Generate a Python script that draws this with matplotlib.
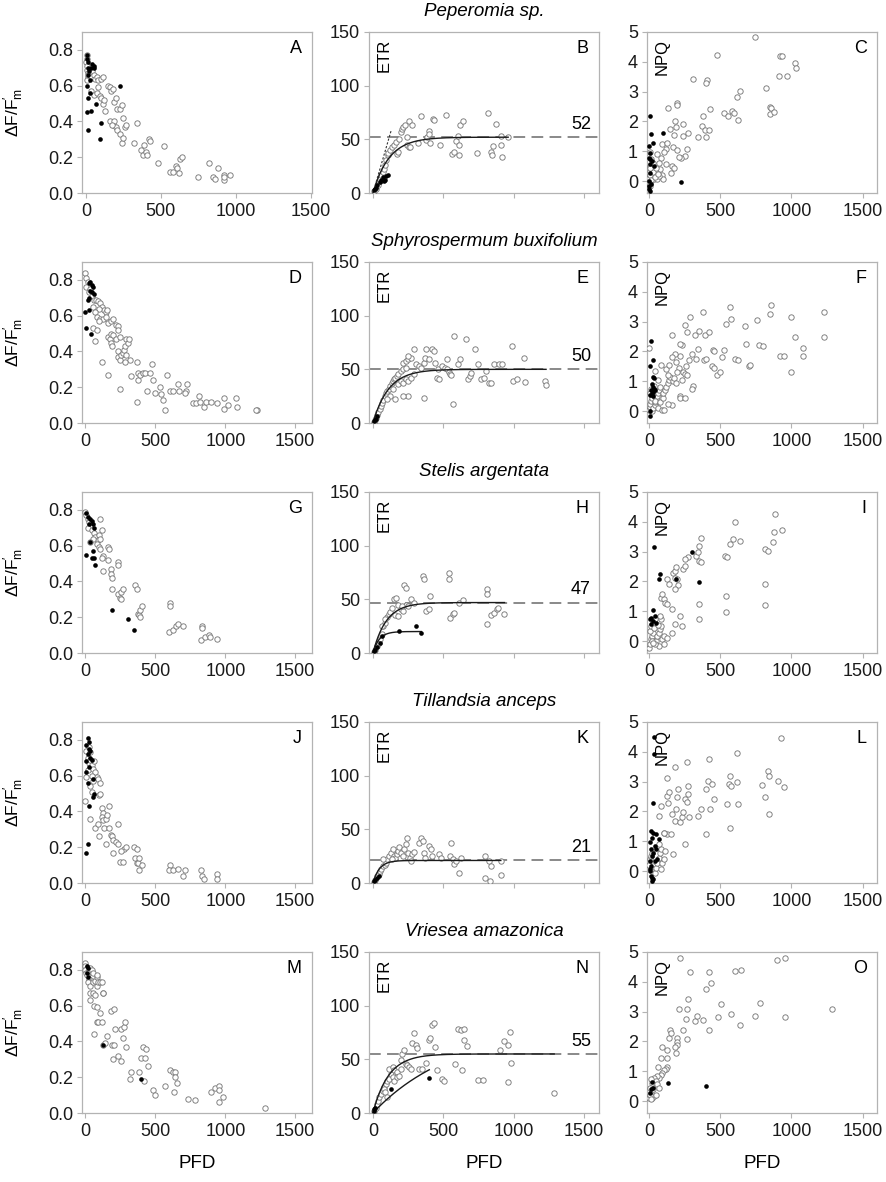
import numpy as np
import matplotlib
matplotlib.use("Agg")
import matplotlib.pyplot as plt

plt.rcParams['font.family'] = ['Liberation Sans', 'DejaVu Sans']
plt.rcParams['mathtext.fontset'] = 'custom'
plt.rcParams['mathtext.rm'] = 'Liberation Sans'
plt.rcParams['mathtext.it'] = 'Liberation Sans:italic'

species = ["Peperomia sp.", "Sphyrospermum buxifolium", "Stelis argentata",
           "Tillandsia anceps", "Vriesea amazonica"]
letters = [["A", "B", "C"], ["D", "E", "F"], ["G", "H", "I"], ["J", "K", "L"], ["M", "N", "O"]]
xticks = [0, 500, 1000, 1500]

# ---- Peperomia sp. ----
A_open = [(5,.77),(5,.75),(3,.73),(8,.71),(5,.69),(10,.67),(12,.65),(5,.63),(15,.66),(25,.67),(30,.65),
          (40,.68),(50,.66),(60,.64),(70,.65),(80,.63),(100,.64),(110,.65),(35,.57),(55,.55),(70,.56),
          (80,.59),(90,.54),(100,.53),(110,.50),(120,.52),(130,.46),(150,.60),(160,.59),(170,.57),
          (180,.58),(190,.51),(200,.53),(210,.47),(230,.47),(240,.49),(250,.42),(160,.40),(180,.38),
          (190,.40),(200,.37),(175,.38),(210,.35),(230,.33),(240,.28),(250,.31),(260,.37),(270,.38),
          (320,.28),(340,.39),(370,.24),(380,.21),(390,.27),(400,.23),(410,.21),(420,.30),(430,.29),
          (480,.17),(520,.26),(560,.12),(580,.12),(600,.15),(610,.14),(620,.11),(625,.19),(640,.20),
          (745,.09),(820,.17),(850,.09),(860,.08),(880,.14),(920,.10),(925,.07),(965,.10),(920,.09)]
A_fill = [(5,.77),(8,.75),(15,.73),(40,.72),(50,.70),(55,.71),(20,.68),(10,.66),(25,.63),(5,.60),
          (26,.56),(15,.53),(4,.455),(31,.46),(68,.50),(13,.35),(97,.39),(90,.30),(224,.60),(10,.70),(30,.70)]
B_open = [(7,1.6),(23,4.0),(35,7.1),(47,10.9),(53,13.4),(58,16.5),(70,19.6),(81,22.7),(86,25.8),
          (93,30.4),(105,35.1),(109,37.6),(123,39.8),(133,42.9),(151,44.4),(163,47.5),(174,36.0),
          (179,38.2),(186,50.6),(198,56.8),(209,59.3),(216,61.5),(226,63.1),(240,44.4),(244,52.2),
          (256,42.9),(263,42.9),(256,66.8),(279,63.1),(319,46.9),(344,71.7),(379,49.1),(384,52.2),
          (395,57.5),(395,55.3),(402,46.6),(426,68.6),(435,67.7),(477,44.4),(519,73.0),(558,36.6),
          (575,38.2),(593,48.1),(605,53.1),(612,44.4),(612,35.1),(621,63.1),(640,66.8),(740,37.6),
          (819,74.5),(837,38.2),(844,35.7),(849,43.8),(877,64.6),(909,52.8),(909,44.4),(919,33.5),(961,52.2)]
B_fill = [(7,2.5),(16,4),(23,4.7),(30,7),(47,10),(58,11.8),(70,15),(81,10.9),(88,11.8),(93,15.8),(105,17)]
C_open = [(741,4.83),(477,4.24),(1024,3.96),(1029,3.79),(918,4.21),(930,4.21),(913,3.54),(965,3.51),
          (311,3.43),(406,3.39),(399,3.28),(642,3.03),(819,3.11),(616,2.81),(194,2.61),(198,2.55),
          (132,2.45),(430,2.42),(382,2.17),(524,2.28),(580,2.36),(594,2.28),(557,2.17),(623,2.04),
          (852,2.47),(859,2.45),(847,2.25),(878,2.31),(182,2.00),(186,1.82),(144,1.76),(238,1.93),
          (371,1.84),(392,1.71),(418,1.71),(399,1.48),(345,1.49),(276,1.61),(238,1.52),(175,1.53),
          (165,1.15),(198,1.03),(264,1.09),(252,0.84),(222,0.76),(210,0.80),(92,1.24),(123,1.29),
          (116,1.09),(104,0.96),(57,0.90),(85,0.79),(71,0.62),(116,0.56),(158,0.51),(175,0.45),
          (151,0.28),(80,0.39),(92,0.22),(45,0.34),(33,0.06),(21,0.22),(9,0.51),(14,0.73),(5,0.96),
          (57,0.06),(99,0.06),(68,0.17),(9,-0.17),(0,0.1),(5,0.2),(10,0.35),(15,0.05),(20,0.4),
          (25,0.6),(30,0.3),(40,0.15),(50,0.45),(60,0.25),(0,-0.05),(10,-0.1),(5,0.45)]
C_fill = [(5,2.17),(16,1.57),(97,1.61),(28,1.27),(2,1.18),(9,0.93),(0,0.79),(9,0.73),(21,0.67),
          (5,0.56),(33,0.51),(5,0.28),(0,0.0),(0,-0.17),(2,-0.28),(5,-0.34),(222,-0.03),(14,-0.11)]

# ---- Sphyrospermum buxifolium ----
D_open = [(0,.84),(4,.81),(15,.79),(7,.76),(33,.75),(22,.73),(44,.71),(59,.69),(74,.69),(89,.68),
          (107,.67),(118,.65),(133,.63),(144,.62),(155,.63),(96,.64),(52,.65),(70,.62),(81,.59),
          (107,.58),(126,.58),(96,.57),(144,.59),(163,.56),(181,.57),(200,.58),(218,.55),(229,.54),
          (236,.52),(52,.53),(81,.52),(70,.46),(118,.34),(163,.48),(174,.47),(181,.45),(192,.43),
          (181,.50),(200,.49),(218,.47),(244,.48),(229,.40),(236,.37),(244,.35),(255,.38),(266,.39),
          (273,.41),(281,.43),(292,.47),(303,.45),(310,.47),(318,.35),(281,.34),(292,.38),(163,.27),
          (244,.19),(329,.26),(366,.34),(377,.28),(377,.24),(392,.27),(414,.28),(429,.28),(458,.28),
          (477,.33),(480,.24),(366,.12),(440,.18),(495,.17),(532,.20),(539,.16),(551,.13),(569,.07),
          (580,.27),(606,.18),(624,.18),(661,.22),(669,.18),(717,.18),(724,.22),(709,.17),(772,.11),
          (791,.11),(809,.15),(820,.12),(846,.09),(865,.12),(901,.12),(938,.11),(994,.14),(994,.08),
          (1020,.10),(1079,.14),(1086,.09),(1227,.07),(1219,.07)]
D_fill = [(33,.79),(44,.77),(52,.76),(22,.78),(33,.74),(15,.69),(22,.70),(0,.62),(22,.63),(7,.53),
          (37,.50),(44,.73),(59,.72)]
E_open = [(4,0.6),(15,2.5),(22,4.7),(30,7.8),(37,10),(48,13.1),(59,15.6),(66,18.8),(74,21.3),(85,25),
          (96,27.5),(103,29.7),(111,31.9),(122,34.4),(133,36.9),(140,39.1),(148,40.6),(159,42.2),
          (170,43.8),(177,45.3),(196,48.4),(214,50),(232,51.6),(214,55.6),(232,57.8),(251,59.4),
          (269,60.9),(288,68.8),(251,62.5),(177,35.9),(196,39.1),(214,37.5),(232,40.6),(251,39.1),
          (269,42.2),(288,45.3),(140,31.3),(122,25),(103,21.9),(159,22.5),(251,25),(306,54.7),
          (325,53.1),(343,51.6),(362,56.3),(369,60.9),(380,68.8),(399,59.4),(417,68.8),(435,67.2),
          (443,56.3),(454,42.2),(465,50),(472,41.3),(491,53.1),(509,51.6),(528,50),(539,47.5),
          (546,45.3),(554,44.4),(528,59.4),(576,81.3),(601,55.3),(620,60),(664,78.1),(675,40.6),
          (686,43.8),(694,46.9),(723,68.8),(749,54.7),(768,40.6),(786,42.2),(804,48.4),(823,37.5),
          (841,36.9),(860,54.7),(897,54.7),(915,54.7),(989,71.9),(996,39.1),(1026,40.6),(1070,60.9),
          (1081,38.4),(1221,39.1),(1229,35),(565,18.1),(362,23.4),(214,25)]
E_fill = [(4,1.6),(15,3.1),(22,3.8),(30,6.3)]
F_open = [(0,0.05),(5,0.15),(10,0.25),(15,0.35),(20,0.45),(25,0.55),(30,0.65),(10,0.6),(15,0.75),
          (20,0.0),(30,0.1),(40,0.2),(45,0.3),(50,0.4),(55,0.5),(60,0.6),(70,0.7),(75,0.8),(35,0.85),
          (40,0.35),(65,0.1),(90,0.05),(80,0.3),(95,0.45),(100,0.6),(110,0.7),(120,0.8),(130,0.95),
          (140,1.05),(150,1.15),(165,1.0),(175,1.1),(60,1.05),(45,1.35),(85,1.55),(120,1.4),(0,2.1),
          (135,1.2),(190,0.95),(215,0.5),(220,0.45),(160,0.2),(105,0.05),(130,0.25),
          (160,2.55),(253,2.89),(290,3.15),(376,3.31),(539,2.92),(569,3.48),(577,3.09),(673,2.84),
          (681,2.25),(755,3.07),(859,3.56),(848,3.26),(997,3.15),(1027,2.47),(997,1.31),(1082,2.1),
          (1082,1.85),(1228,3.31),(1228,2.5),(922,1.86),(948,1.84),(774,2.2),(800,2.18),(699,1.5),
          (710,1.55),(606,1.75),(625,1.7),(513,1.8),(525,2.05),(450,2.05),(457,2.0),(439,1.5),
          (457,1.45),(476,1.2),(495,1.3),(383,1.7),(402,1.75),(346,2.08),(300,1.9),(280,1.7),
          (260,1.5),(240,1.3),(230,1.05),(250,1.25),(210,1.45),(200,1.3),(190,1.65),(220,1.85),
          (230,2.2),(270,2.65),(320,2.55),(350,2.7),(390,2.55),(420,2.65),(330,1.75),(310,0.85),
          (300,0.75),(250,0.45),(215,2.25),(180,1.9),(140,1.55),(160,1.8),(270,1.2)]
F_fill = [(15,2.35),(10,1.5),(30,1.7),(35,1.1),(30,1.15),(20,0.9),(25,0.8),(15,0.7),(30,0.65),
          (20,0.6),(10,0.55),(25,0.5),(5,0.0),(5,-0.15),(35,0.75),(40,0.7)]

# ---- Stelis argentata ----
G_open = [(0,.79),(7,.77),(15,.75),(22,.73),(33,.71),(15,.70),(44,.69),(59,.67),(70,.65),(89,.63),
          (81,.61),(96,.59),(52,.64),(33,.62),(107,.58),(96,.66),(107,.64),(118,.69),(107,.75),
          (126,.54),(118,.53),(126,.46),(163,.59),(170,.58),(163,.52),(181,.47),(181,.44),(192,.42),
          (192,.36),(229,.51),(229,.49),(236,.33),(244,.31),(255,.34),(266,.36),(255,.30),(355,.38),
          (366,.36),(377,.22),(384,.21),(392,.20),(392,.24),(403,.26),(606,.28),(606,.26),(598,.12),
          (624,.13),(650,.15),(661,.16),(698,.15),(835,.15),(835,.14),(828,.07),(857,.09),(883,.10),
          (894,.09),(938,.08)]
G_fill = [(4,.78),(15,.76),(33,.75),(44,.74),(52,.72),(22,.72),(59,.70),(33,.62),(7,.55),(44,.53),
          (59,.53),(70,.49),(52,.57),(192,.24),(303,.19),(347,.13)]
H_open = [(4,0.6),(18,3.1),(30,6.3),(41,9.4),(52,13.1),(66,18.1),(74,25),(85,27.5),(103,33.8),
          (111,35.9),(122,38.1),(133,42.2),(148,50),(162,51.6),(177,44.4),(196,40.6),(214,39.1),
          (232,44.4),(251,43.8),(221,63.1),(232,60.6),(269,50.6),(288,46.9),(354,71.9),(362,68.8),
          (380,39.1),(399,40.6),(406,53.1),(539,74.4),(539,69.4),(546,32.8),(565,35.9),(576,37.5),
          (613,46.3),(639,49.4),(812,60),(812,54.7),(812,26.6),(841,35),(860,37.5),(878,40.6),
          (886,42.2),(934,35.9),(66,25),(85,31.3),(159,35),(177,34.4),(207,43.8)]
H_fill = [(4,1.6),(15,3.1),(30,5.6),(48,9.4),(66,15.6),(188,20.3),(306,25),(343,18.8)]
I_open = [(0,-0.22),(4,-0.11),(11,0.06),(19,0.17),(30,0.28),(4,0.34),(11,0.51),(30,0.62),(41,0.73),
          (48,0),(56,0.17),(67,0.28),(78,0.39),(86,0.51),(67,-0.17),(41,-0.11),(93,0.06),(104,0.17),
          (104,-0.11),(123,0.11),(86,0.73),(78,0.84),(86,1.46),(104,1.40),(93,1.57),(115,1.29),
          (123,1.24),(123,2.08),(141,1.91),(160,1.09),(179,0.56),(160,0.28),(167,2.28),(179,2.36),
          (190,2.47),(179,2.13),(197,2.08),(205,1.88),(179,1.74),(216,0.84),(234,0.51),(242,2.42),
          (253,2.51),(272,2.81),(253,2.75),(327,2.87),(346,2.98),(353,3.20),(365,3.45),(353,2.70),
          (365,2.64),(353,1.24),(353,0.73),(532,2.87),(550,2.81),(539,1.52),(539,0.96),(569,3.26),
          (588,3.43),(606,3.99),(636,3.37),(811,3.09),(837,3.03),(811,1.91),(811,1.20),(867,3.31),
          (874,3.67),(885,4.27),(934,3.71),(20,0.0),(35,0.45),(60,0.55),(25,-0.05)]
I_fill = [(37,3.15),(74,2.25),(67,2.08),(11,0.79),(30,1.03),(4,0.73),(30,0.67),(48,0.6),(11,0.56),
          (41,0.84),(301,2.98),(190,2.08),(353,1.97)]

# ---- Tillandsia anceps ----
J_open = [(0,.46),(7,.59),(15,.63),(22,.67),(15,.70),(7,.74),(22,.76),(33,.73),(33,.69),(44,.66),
          (52,.64),(59,.68),(70,.62),(81,.59),(89,.58),(44,.60),(52,.57),(33,.54),(44,.51),(33,.36),
          (70,.31),(89,.33),(96,.49),(107,.50),(107,.56),(96,.26),(118,.42),(126,.39),(118,.37),
          (126,.35),(133,.31),(144,.36),(155,.38),(144,.22),(170,.43),(170,.31),(181,.27),(192,.26),
          (200,.24),(218,.23),(200,.17),(229,.22),(236,.33),(244,.12),(266,.12),(273,.19),(255,.18),
          (292,.20),(347,.20),(366,.19),(355,.14),(366,.11),(377,.11),(384,.14),(403,.10),(384,.07),
          (606,.10),(598,.07),(624,.07),(661,.08),(698,.04),(709,.07),(828,.07),(835,.04),(846,.02),
          (938,.05),(938,.02)]
J_fill = [(15,.81),(22,.79),(7,.77),(22,.75),(33,.74),(15,.72),(33,.70),(44,.69),(7,.68),(22,.65),
          (7,.62),(15,.56),(52,.58),(59,.50),(52,.48),(22,.43),(15,.22),(7,.17)]
K_open = [(7,0.6),(18,3.1),(30,6.3),(41,8.8),(52,11.3),(59,13.1),(74,15.6),(85,17.2),(96,18.8),
          (103,21.9),(111,25),(125,28.1),(140,31.3),(148,25),(159,23.4),(170,26.6),(177,29.7),
          (185,33.8),(196,28.1),(214,25),(221,31.3),(232,35.9),(243,42.2),(251,28.1),(262,23.4),
          (269,20.3),(280,26.6),(288,28.8),(325,37.5),(343,42.2),(354,39.1),(362,28.1),(369,23.4),
          (399,34.4),(410,31.3),(421,25),(472,26.6),(480,23.4),(546,25),(554,37.5),(565,21.9),
          (576,18.1),(591,20.3),(613,9.4),(627,23.4),(797,25),(797,4.7),(823,20.3),(834,1.6),
          (841,15.6),(908,20.3),(908,7.2),(74,21.9),(133,21.9)]
K_fill = [(7,1.6),(18,3.1),(30,4.7),(41,6.3)]
L_open = [(0,0.22),(4,0.39),(11,0.51),(19,0.62),(11,0.06),(30,0.17),(41,-0.06),(48,0.11),(56,0.28),
          (67,0.45),(78,0.62),(86,0.73),(67,0.9),(86,0.06),(93,0.26),(104,0.39),(115,0.67),(123,1.24),
          (104,1.27),(153,1.24),(67,1.85),(86,2.19),(123,2.53),(130,2.30),(141,2.64),(160,1.91),
          (179,1.69),(190,2.08),(197,2.47),(205,2.75),(216,1.65),(234,1.80),(242,1.97),(253,2.42),
          (264,2.33),(272,2.58),(279,1.80),(123,3.11),(179,3.48),(264,3.65),(272,2.87),(253,0.9),
          (167,0.56),(104,1.29),(402,2.75),(413,3.03),(420,3.76),(439,2.92),(458,2.42),(428,2.08),
          (402,1.24),(550,2.25),(562,2.92),(569,3.2),(577,2.87),(569,1.46),(618,2.98),(618,3.97),
          (625,2.25),(792,2.89),(811,2.47),(837,3.37),(841,3.2),(841,1.91),(904,3.03),(923,4.46),
          (949,2.83),(346,1.85),(365,2.08)]
L_fill = [(4,0),(11,0.17),(4,0.34),(19,0.51),(30,0.62),(11,0.73),(41,0.84),(4,0.96),(19,1.12),
          (30,1.29),(11,1.35),(48,1.24),(67,1.07),(48,0.73),(59,0.39),(41,0.34),(19,-0.22),(19,-0.34),
          (30,-0.28),(37,3.93),(37,4.49),(30,2.28),(4,0.06),(11,-0.17)]

# ---- Vriesea amazonica ----
M_open = [(0,.84),(0,.82),(9,.81),(0,.80),(5,.78),(21,.79),(33,.81),(45,.80),(57,.78),(14,.77),
          (28,.75),(45,.74),(16,.73),(33,.71),(57,.73),(68,.74),(80,.76),(80,.71),(92,.73),(104,.73),
          (85,.77),(33,.67),(52,.67),(68,.66),(33,.63),(61,.60),(80,.59),(104,.56),(123,.67),(127,.67),
          (120,.73),(80,.51),(92,.51),(116,.51),(61,.44),(156,.43),(127,.38),(139,.39),(182,.57),
          (203,.58),(210,.47),(193,.38),(205,.38),(198,.30),(233,.32),(252,.47),(273,.48),(283,.51),
          (257,.29),(269,.42),(292,.37),(316,.19),(328,.23),(382,.23),(399,.31),(410,.37),(427,.31),
          (415,.18),(434,.36),(446,.26),(481,.13),(500,.10),(571,.15),(604,.24),(627,.23),(634,.12),
          (641,.23),(641,.20),(658,.17),(736,.08),(780,.07),(898,.12),(929,.14),(953,.15),(953,.13),
          (981,.09),(957,.06),(1283,.03)]
M_fill = [(14,.82),(21,.81),(14,.78),(21,.76),(127,.38),(399,.19)]
N_open = [(9,1.6),(21,5),(28,8.2),(33,11.3),(45,14.5),(56,17.6),(68,20.8),(80,23.9),(92,27),
          (103,30.2),(75,22.3),(85,19.2),(99,14.5),(115,31.8),(127,36.5),(115,41.2),(139,42.7),
          (150,39.6),(162,36.5),(174,38),(139,33.3),(150,30.2),(174,33.3),(185,34.9),(197,41.2),
          (197,49),(209,55.4),(221,58.5),(232,45.9),(244,44.3),(256,42.7),(268,41.2),(279,64.8),
          (291,74.2),(303,63.2),(315,60.1),(326,41.2),(350,41.2),(380,46.5),(397,67.9),(408,69.5),
          (420,82.1),(432,83.7),(444,61.6),(456,39.6),(491,31.8),(502,30.2),(606,78),(622,77.4),
          (646,78),(646,67.9),(665,62.3),(582,45.3),(629,39.6),(746,30.8),(782,30.8),(904,58.5),
          (934,67.3),(958,63.2),(970,75.8),(981,46.9),(958,28.6),(1287,18.2)]
N_fill = [(5,2),(10,3.5),(15,5),(131,22),(397,33)]
O_open = [(218,4.81),(288,4.34),(422,4.33),(433,3.97),(403,3.77),(602,4.36),(644,4.38),(897,4.74),
          (956,4.79),(276,3.41),(213,3.08),(269,3.08),(321,2.68),(335,2.84),(382,2.71),(419,2.39),
          (504,3.27),(485,2.81),(574,2.93),(637,2.55),(742,2.87),(780,3.28),(953,2.81),(1281,3.08),
          (258,2.74),(241,2.40),(265,2.07),(199,2.13),(194,1.99),(199,1.88),(180,1.81),(187,1.62),
          (148,2.40),(141,2.10),(152,2.29),(129,1.70),(129,1.45),(94,1.81),(87,1.43),(124,1.14),
          (117,1.09),(105,1.03),(94,0.95),(82,0.89),(70,0.78),(59,0.84),(63,1.14),(35,0.78),(47,0.67),
          (23,0.62),(12,0.73),(7,0.45),(12,0.28),(23,0.11),(35,0.17),(47,0.22),(30,0.39),(59,0.56),
          (70,0.45),(0,0.11),(7,0.22),(16,0.06)]
O_fill = [(23,0.65),(133,0.62),(398,0.50),(16,0.39),(7,0.28),(30,0.45)]

panels = [[A_open, B_open, C_open], [D_open, E_open, F_open], [G_open, H_open, I_open],
          [J_open, K_open, L_open], [M_open, N_open, O_open]]
panels_fill = [[A_fill, B_fill, C_fill], [D_fill, E_fill, F_fill], [G_fill, H_fill, I_fill],
               [J_fill, K_fill, L_fill], [M_fill, N_fill, O_fill]]

# ETR fits: Pmax, initial slope, end of solid fit
etr_pmax = [52, 50, 47, 21, 55]
etr_alpha = [0.45, 0.45, 0.5, 0.45, 0.5]
etr_xend = [960, 1229, 934, 908, 1287]
# fits to the filled points (row index: Pmax, alpha, xend)
fill_fit = {2: (20, 0.45, 343), 4: (80, 0.14, 400)}

W, H = 886, 1182
fig = plt.figure(figsize=(W / 100, H / 100), dpi=100)
col_left = [82, 369, 647]
col_w = 230
row_top = [32, 262, 492, 722, 952]
row_h = 161
xlims = [(-25, 1620), (-28, 1605), (-14, 1600)]
ylims = [(0, 0.9), (0, 150), (-0.4, 5)]
yticks = [[0, 0.2, 0.4, 0.6, 0.8], [0, 50, 100, 150], [0, 1, 2, 3, 4, 5]]
spine_c = '#b3b3b3'


def etr_curve(x, p, a):
    return p * (1 - np.exp(-a * x / p))


for r in range(5):
    for c in range(3):
        ax = fig.add_axes([col_left[c] / W, 1 - (row_top[r] + row_h) / H, col_w / W, row_h / H])
        op = np.array(panels[r][c])
        fp = np.array(panels_fill[r][c])
        ax.scatter(op[:, 0], op[:, 1], s=15, facecolors='white', edgecolors='#7a7a7a',
                   linewidths=0.65, zorder=3)
        ax.scatter(fp[:, 0], fp[:, 1], s=11, color='black', linewidths=0, zorder=5)
        xl = xlims[c]
        if r == 0 and c == 0:
            xl = (-27, 1510)
        ax.set_xlim(*xl)
        ax.set_ylim(*ylims[c])
        ax.set_xticks(xticks)
        ax.set_yticks(yticks[c])
        if c == 0:
            ax.set_yticklabels(['%.1f' % v for v in yticks[c]])
            ax.set_ylabel(r"ΔF/F$_\mathrm{m}^{\prime}$", fontsize=12.5)
            ax.yaxis.set_label_coords(-0.245, 0.5)
        if c == 1:
            p, a, xe = etr_pmax[r], etr_alpha[r], etr_xend[r]
            ax.axhline(p, color='#808080', lw=1.3, dashes=(6.5, 3.5), zorder=2)
            xs = np.linspace(0, xe, 300)
            ax.plot(xs, etr_curve(xs, p, a), color='#1a1a1a', lw=1.0, zorder=4)
            if r in fill_fit:
                fp_, fa, fx = fill_fit[r]
                xs2 = np.linspace(0, fx, 200)
                ax.plot(xs2, etr_curve(xs2, fp_, fa), color='#1a1a1a', lw=1.0, zorder=4)
            if r == 0:
                xs3 = np.linspace(0, 130, 20)
                ax.plot(xs3, a * xs3, color='#333333', lw=0.8, ls=(0, (2, 1.5)), zorder=4)
            ax.text(0.965, p + 4, str(p), transform=ax.get_yaxis_transform(),
                    ha='right', va='bottom', fontsize=13)
            ax.text(0.065, 0.955, 'ETR', transform=ax.transAxes, rotation=90,
                    ha='center', va='top', fontsize=12)
            if r < 4:
                ax.set_xticklabels([])
        if c == 2:
            ax.text(0.065, 0.955, 'NPQ', transform=ax.transAxes, rotation=90,
                    ha='center', va='top', fontsize=12)
        ax.text(0.955, 0.9, letters[r][c], transform=ax.transAxes, ha='right', va='center',
                fontsize=13)
        for s in ax.spines.values():
            s.set_color(spine_c)
            s.set_linewidth(0.9)
        ax.tick_params(direction='out', length=3.5, width=0.8, color=spine_c,
                       labelsize=13, labelcolor='#1a1a1a')
        ax.tick_params(axis='x', pad=4)
        ax.tick_params(axis='y', pad=3)
        if r == 4:
            ax.set_xlabel('PFD', fontsize=13.5)
            ax.xaxis.set_label_coords(0.5, -0.26)
    fig.text((col_left[1] + col_w / 2) / W, 1 - (row_top[r] - 20) / H, species[r],
             ha='center', va='center', fontsize=13.5, style='italic')

fig.savefig('out.png', dpi=100)
